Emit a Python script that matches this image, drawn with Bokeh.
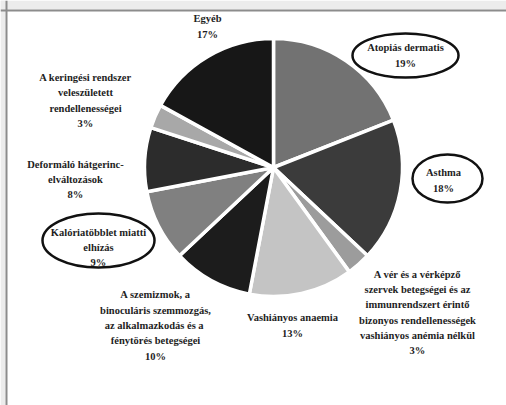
import math
from bokeh.plotting import figure
from bokeh.models import Range1d, ColumnDataSource, Span, BoxAnnotation
from bokeh.core.properties import value
from bokeh.embed import file_html
from bokeh.resources import INLINE

# ---- data (clockwise from 12 o'clock) ----
categories = [
    "Atopiás dermatis",
    "Asthma",
    "A vér és a vérképző\nszervek betegségei és az\nimmunrendszert érintő\nbizonyos rendellenességek\nvashiányos anémia nélkül",
    "Vashiányos anaemia",
    "A szemizmok, a\nbinoculáris szemmozgás,\naz alkalmazkodás és  a\nfénytörés betegségei",
    "Kalóriatöbblet miatti\nelhízás",
    "Deformáló hátgerinc-\nelváltozások",
    "A keringési rendszer\nveleszületett\nrendellenességei",
    "Egyéb",
]
shares = [19, 18, 3, 13, 10, 9, 8, 3, 17]
colors = ["#727272", "#3b3b3b", "#9c9c9c", "#c4c4c4", "#1c1c1c",
          "#808080", "#2c2c2c", "#a8a8a8", "#171717"]
highlighted = [True, True, False, False, False, True, False, False, False]

# ---- layout (page pixel coordinates) ----
W, H = 506, 405
def Y(py):
    return H - py

cx, cy, R = 273, Y(167), 129
label_x = [405, 443, 417, 292, 155, 98, 75, 85, 207]
label_y = [55, 180, 312, 325, 325, 247, 179, 100, 26]
ell_w = [106, 70, 0, 0, 0, 112, 0, 0, 0]
ell_h = [44, 48, 0, 0, 0, 54, 0, 0, 0]
ell_x = [405, 447, 0, 0, 0, 98, 0, 0, 0]
ell_y = [55, 178, 0, 0, 0, 240, 0, 0, 0]

total = sum(shares)
starts, ends = [], []
cum = 0
for s in shares:
    a0 = math.pi / 2 - 2 * math.pi * (cum + s) / total
    a1 = math.pi / 2 - 2 * math.pi * cum / total
    starts.append(a0)
    ends.append(a1)
    cum += s

p = figure(width=W, height=H, output_backend="svg", toolbar_location=None,
           x_range=Range1d(0, W), y_range=Range1d(0, H),
           min_border=0, background_fill_color="white", border_fill_color="white")
p.axis.visible = False
p.grid.visible = False
p.outline_line_color = None

# frame decoration
p.add_layout(BoxAnnotation(bottom=Y(9), top=Y(0), fill_color="#ececec", fill_alpha=1, line_color=None))
p.add_layout(BoxAnnotation(left=0, right=5, fill_color="#ececec", fill_alpha=1, line_color=None))
p.add_layout(Span(location=Y(10), dimension="width", line_color="#8c8c8c", line_width=2))
p.add_layout(Span(location=6, dimension="height", line_color="#8c8c8c", line_width=2))

src = ColumnDataSource(dict(start=starts, end=ends, color=colors))
p.wedge(x=cx, y=cy, radius=R, start_angle="start", end_angle="end",
        direction="anticlock", fill_color="color", line_color="white",
        line_width=3.5, source=src)

texts = [f"{c}\n{s}%" for c, s in zip(categories, shares)]
tsrc = ColumnDataSource(dict(x=label_x, y=[Y(v) for v in label_y], text=texts))
p.text(x="x", y="y", text="text", source=tsrc, text_font=value("Liberation Serif"),
       text_font_style="bold", text_font_size="10.5px", text_align="center",
       text_baseline="middle", text_line_height=1.39, text_color="#1e1e1e")

ex = [x for x, h in zip(ell_x, highlighted) if h]
ey = [Y(y) for y, h in zip(ell_y, highlighted) if h]
ew = [w for w, h in zip(ell_w, highlighted) if h]
eh = [v for v, h in zip(ell_h, highlighted) if h]
p.ellipse(x=ex, y=ey, width=ew, height=eh, fill_alpha=0, line_color="#111111", line_width=2.5)

open("out.html", "w").write(file_html(p, INLINE))
